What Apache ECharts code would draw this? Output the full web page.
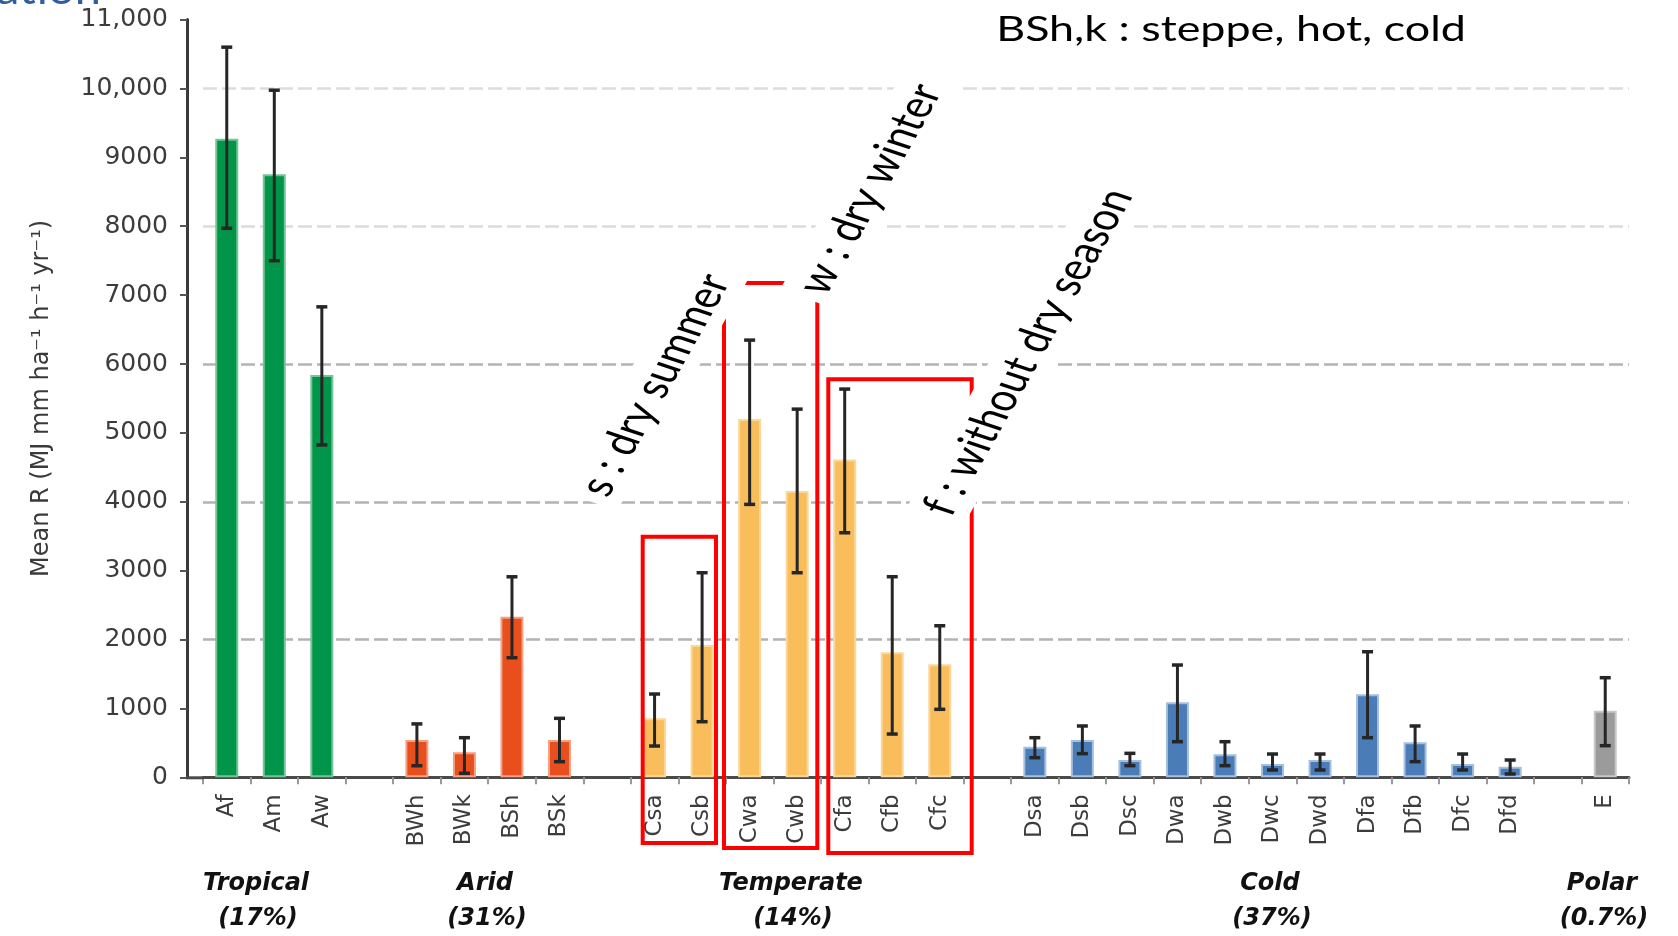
<!DOCTYPE html>
<html><head><meta charset="utf-8">
<script src="https://cdn.jsdelivr.net/npm/echarts@6/dist/echarts.min.js"></script>
<style>html,body{margin:0;padding:0;background:#fff}#c{width:1678px;height:936px}</style>
</head><body><div id="c"></div>
<script>
// ---- data ----
const categories = ['Af','Am','Aw','','BWh','BWk','BSh','BSk','','Csa','Csb','Cwa','Cwb','Cfa','Cfb','Cfc','','Dsa','Dsb','Dsc','Dwa','Dwb','Dwc','Dwd','Dfa','Dfb','Dfc','Dfd','','E'];
const groupOf = [0,0,0,-1,1,1,1,1,-1,2,2,2,2,2,2,2,-1,3,3,3,3,3,3,3,3,3,3,3,-1,4];
const meanR   = [9270,8755,5840,null,540,363,2330,540,null,856,1920,5200,4155,4615,1814,1640,null,444,541,251,1088,333,193,251,1204,508,193,154,null,967];
const errHigh = [10600,9975,6830,null,775,575,2911,856,null,1209,2970,6347,5345,5636,2912,2200,null,575,745,348,1630,517,338,338,1823,745,338,251,null,1446];
const errLow  = [7970,7500,4825,null,168,58,1736,227,null,454,807,3962,2970,3550,628,987,null,285,343,169,517,169,106,106,575,227,106,48,null,459];
const groupNames  = ['Tropical','Arid','Temperate','Cold','Polar'];
const groupShares = ['(17%)','(31%)','(14%)','(37%)','(0.7%)'];
const yTickLabels = ['0','1000','2000','3000','4000','5000','6000','7000','8000','9000','10,000','11,000'];
const gridValues  = [2000,4000,6000,8000,10000];
const yAxisTitle  = 'Mean R (MJ mm ha\u207B\u00B9 h\u207B\u00B9 yr\u207B\u00B9)';
const noteTexts   = ['s : dry summer','w : dry winter','f : without dry season'];
const titleText   = 'BSh,k : steppe, hot, cold';
const slideTitleTail = 'ation';

// ---- styles ----
const groupFill = ['#009548','#e84f1c','#f9be5b','#4a7cb8','#9b9b9b'];
const groupEdge = ['#74c497','#f2a183','#fcd79c','#a6bfdf','#c8c8c8'];
const gridColors = ['#b3b3b3','#b3b3b3','#b3b3b3','#dcdcdc','#dcdcdc'];
const groupLabelX = [256,485,791,1270,1602];
const notePos = [[655,385],[870,189],[1028,352]];
const redBoxes = [[642.7,536.7,716,843],[724,283,817.3,848],[828.3,379.3,971.7,853]];

const chart = echarts.init(document.getElementById('c'), null, {renderer:'canvas'});

const barData = meanR.map((v,i)=> v==null ? null : {
  value: v,
  itemStyle: {color: groupFill[groupOf[i]], borderColor: groupEdge[groupOf[i]], borderWidth: 2}
});
const errData = [];
categories.forEach((c,i)=>{ if (errLow[i]!=null) errData.push([i, errLow[i], errHigh[i]]); });

const graphics = [];
// axis stub to reach y axis
graphics.push({type:'line', z:5, shape:{x1:186, y1:777.8, x2:204, y2:777.8}, style:{stroke:'#4a4a4a', lineWidth:3}});
// red boxes
redBoxes.forEach(b=>graphics.push({type:'rect', z:20, shape:{x:b[0], y:b[1], width:b[2]-b[0], height:b[3]-b[1]}, style:{fill:'none', stroke:'#ff0000', lineWidth:4}}));
// rotated notes (stretched horizontally like the slide)
noteTexts.forEach((t,i)=>graphics.push({type:'group', x:notePos[i][0], y:notePos[i][1], scaleX:1.3, z:30, children:[
  {type:'text', z:30, rotation: 66.5*Math.PI/180, style:{text:t, x:0, y:0, align:'center', verticalAlign:'middle', font:'37px Lato', fill:'#000', backgroundColor:'#fff', padding:[5,8]}}
]}));
// title note
graphics.push({type:'group', x:1231, y:30, scaleX:1.3, z:30, children:[
  {type:'text', z:30, style:{text:titleText, x:0, y:0, align:'center', verticalAlign:'middle', font:'34.5px Lato', fill:'#000'}}
]});
// slide title tail
graphics.push({type:'group', x:-4, y:0, scaleX:1.12, z:30, children:[
  {type:'text', z:30, style:{text:slideTitleTail, x:0, y:11.5, align:'left', verticalAlign:'bottom', font:'42px Lato', fill:'#2f5e9c'}}
]});
// group labels
groupNames.forEach((g,i)=>{
  graphics.push({type:'text', z:30, style:{text:g, x:groupLabelX[i], y:884, align:'center', verticalAlign:'middle', font:'italic bold 24px "DejaVu Sans"', fill:'#111'}});
  graphics.push({type:'text', z:30, style:{text:groupShares[i], x:groupLabelX[i]+2, y:919, align:'center', verticalAlign:'middle', font:'italic bold 24px "DejaVu Sans"', fill:'#111'}});
});

chart.setOption({
  animation:false,
  backgroundColor:'#fff',
  grid:{left:203, right:49, top:19.6, bottom:158.7},
  xAxis:{
    type:'category', data:categories, boundaryGap:true,
    axisLine:{show:true, lineStyle:{color:'#4a4a4a', width:3}},
    axisTick:{show:true, interval:0, length:7, lineStyle:{color:'#999', width:2}},
    axisLabel:{interval:0, rotate:90, margin:17, fontFamily:'DejaVu Sans', fontSize:23, color:'#3c3c3c'},
    splitLine:{show:false}
  },
  yAxis:{
    type:'value', min:0, max:11000, interval:1000, offset:16,
    name: yAxisTitle, nameLocation:'middle', nameGap:133, nameRotate:90,
    nameTextStyle:{fontFamily:'DejaVu Sans', fontSize:24, color:'#3a3a3a'},
    axisLine:{show:true, lineStyle:{color:'#3a3a3a', width:3}},
    axisTick:{show:true, length:7, lineStyle:{color:'#555', width:2}},
    axisLabel:{margin:19, fontFamily:'DejaVu Sans', fontSize:25, color:'#3c3c3c', formatter:(v)=>yTickLabels[Math.round(v/1000)]},
    splitLine:{show:false}
  },
  series:[
    {type:'bar', data:barData, barWidth:23, z:2,
     markLine:{silent:true, symbol:['none','none'], z:1, label:{show:false},
       data: gridValues.map((v,i)=>({yAxis:v, lineStyle:{color:gridColors[i], type:[14,5], width:2.5}}))}
    },
    {type:'custom', z:3, data:errData, encode:{x:0, y:[1,2]},
     renderItem:(params, api)=>{
       const x = api.value(0);
       const lo = api.coord([x, api.value(1)]);
       const hi = api.coord([x, api.value(2)]);
       const hw = 5.5, col = '#262626';
       return {type:'group', children:[
         {type:'line', shape:{x1:lo[0], y1:lo[1], x2:hi[0], y2:hi[1]}, style:{stroke:col, lineWidth:3}},
         {type:'line', shape:{x1:hi[0]-hw, y1:hi[1], x2:hi[0]+hw, y2:hi[1]}, style:{stroke:col, lineWidth:3.5}},
         {type:'line', shape:{x1:lo[0]-hw, y1:lo[1], x2:lo[0]+hw, y2:lo[1]}, style:{stroke:col, lineWidth:3.5}}
       ]};
     }}
  ],
  graphic: graphics
});
</script></body></html>
